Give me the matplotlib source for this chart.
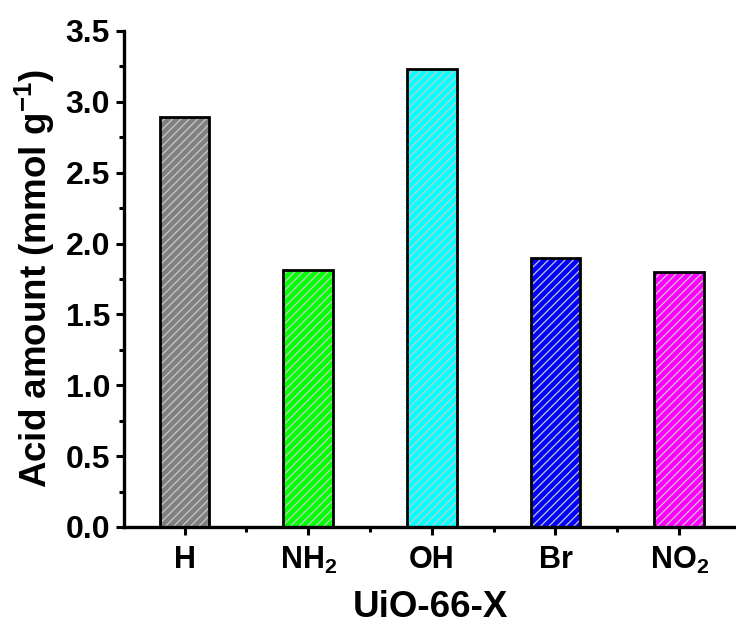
import matplotlib
matplotlib.use("Agg")
import matplotlib.pyplot as plt
from matplotlib.ticker import MultipleLocator

plt.rcParams['font.family'] = ['Liberation Sans', 'DejaVu Sans']
plt.rcParams['font.weight'] = 'bold'
plt.rcParams['mathtext.fontset'] = 'custom'
plt.rcParams['mathtext.rm'] = 'Liberation Sans:bold'
plt.rcParams['mathtext.bf'] = 'Liberation Sans:bold'
plt.rcParams['mathtext.default'] = 'rm'
plt.rcParams['hatch.linewidth'] = 0.9

# Acid amount per UiO-66 linker substituent
categories = ['H', r'NH$_2$', 'OH', 'Br', r'NO$_2$']
acid_amount = [2.89, 1.81, 3.23, 1.90, 1.80]
bar_colors = ['#808080', '#00ff00', '#00ffff', '#0000ff', '#ff00ff']
y_ticks = [0.0, 0.5, 1.0, 1.5, 2.0, 2.5, 3.0, 3.5]

fig = plt.figure(figsize=(7.36, 6.33), dpi=100)
ax = fig.add_axes([124 / 736, 106 / 633, (736 - 124) / 736, (527 - 31) / 633])

x = list(range(len(categories)))
width = 0.4
# filled bars with light diagonal hatching
ax.bar(x, acid_amount, width=width, color=bar_colors, edgecolor='#c8c8c8',
       linewidth=0, hatch='////', zorder=2)
# black outlines on top
ax.bar(x, acid_amount, width=width, facecolor='none', edgecolor='black',
       linewidth=2.0, zorder=3)

ax.set_xlim(-0.49, 4.46)
ax.set_ylim(0, 3.5)
ax.set_xticks(x)
ax.set_xticklabels(categories)
ax.set_xticks([0.5, 1.5, 2.5, 3.5], minor=True)
ax.set_yticks(y_ticks)
ax.set_yticklabels([f'{v:.1f}' for v in y_ticks])
ax.yaxis.set_minor_locator(MultipleLocator(0.25))

for side in ['top', 'right']:
    ax.spines[side].set_visible(False)
for side in ['left', 'bottom']:
    ax.spines[side].set_linewidth(2.4)

ax.tick_params(axis='both', which='major', direction='out', length=6, width=2.2,
               labelsize=23, pad=4)
ax.tick_params(axis='both', which='minor', direction='out', length=3.5, width=2.2)
ax.tick_params(axis='x', which='major', labelsize=22, pad=7)

ax.set_xlabel('UiO-66-X', fontsize=26.5, fontweight='bold', labelpad=10)
ax.set_ylabel(r'Acid amount (mmol g$^{-1}$)', fontsize=26.5, fontweight='bold', labelpad=6)

fig.savefig('out.png', dpi=100)
